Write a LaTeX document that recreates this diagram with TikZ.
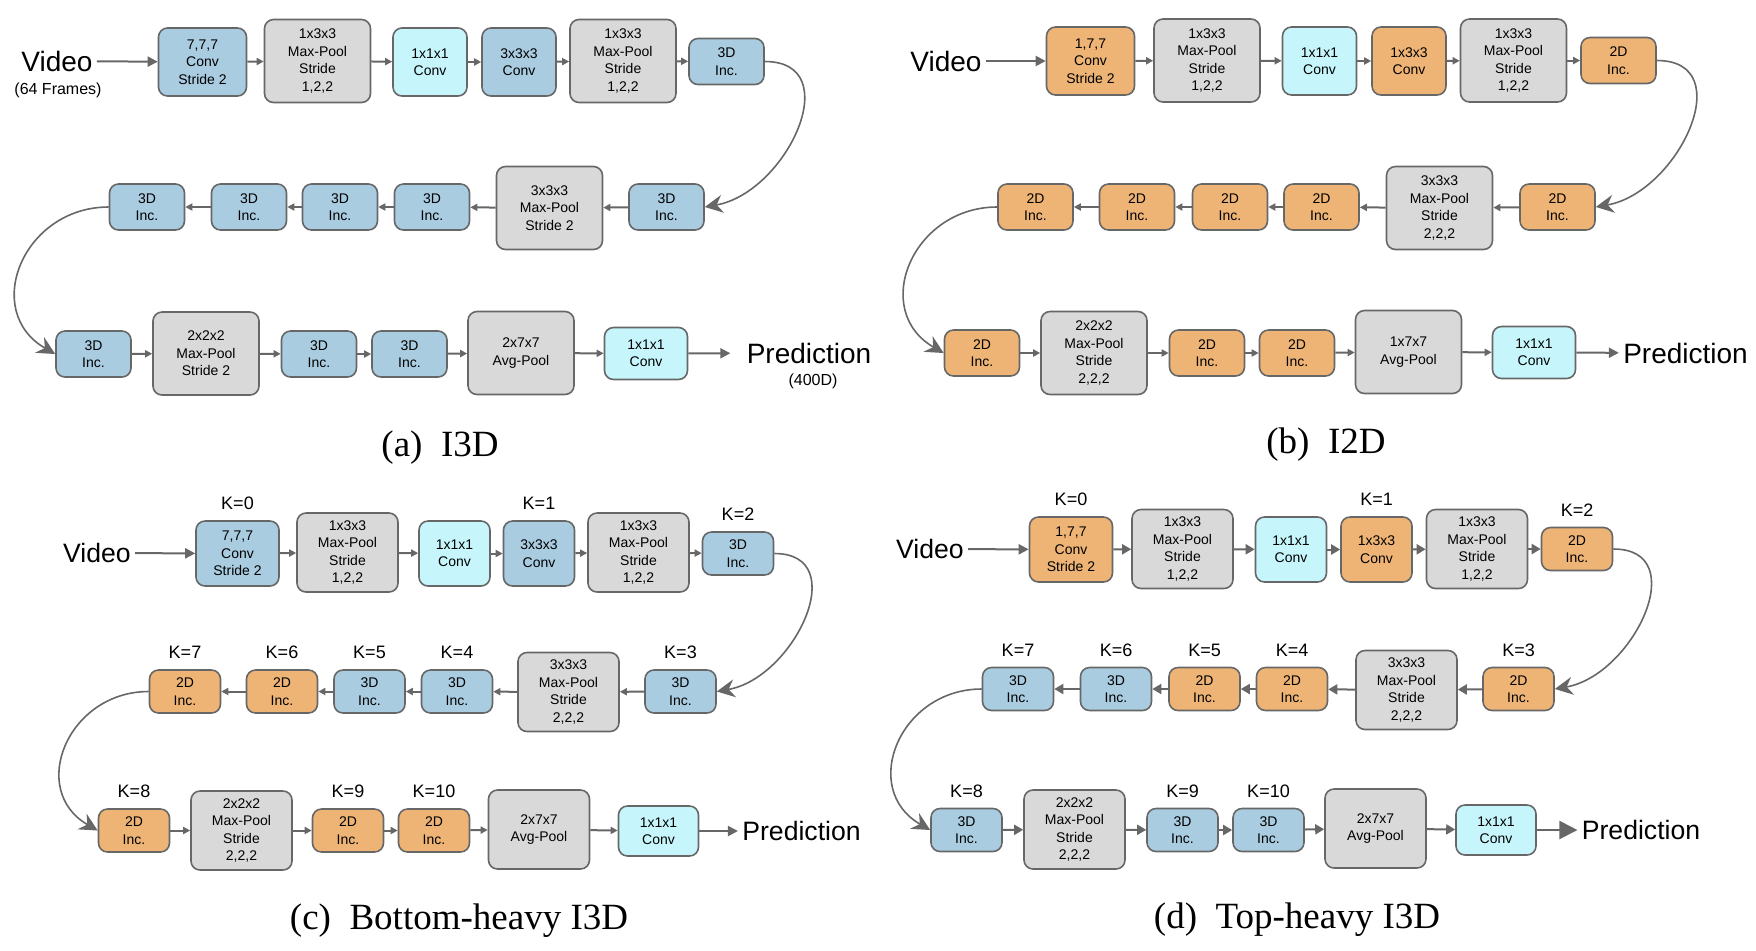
\documentclass[tikz,border=0pt]{standalone}
\usepackage{fontspec}
\setmainfont{Liberation Sans}
\newfontfamily\capfamily{Liberation Serif}
\usetikzlibrary{arrows.meta,positioning}
\definecolor{incblue}{HTML}{A9CCE1}
\definecolor{incorange}{HTML}{EEB476}
\definecolor{poolgray}{HTML}{D9D9D9}
\definecolor{convcyan}{HTML}{C6F6FB}
\definecolor{edgegray}{HTML}{676767}
\tikzset{
	block/.style={
		rectangle,
		rounded corners=4.5pt,
		draw=edgegray, line width=0.8pt,
		align=center,
		inner sep=0pt,
		font=\fontsize{7}{8.7}\selectfont},
	incblock/.style={block, minimum width=37.5pt, minimum height=23pt},
	convblock/.style={block, minimum width=37pt, minimum height=34pt},
	stemblock/.style={block, minimum width=44pt, minimum height=34pt},
	poolblock/.style={block, fill=poolgray, minimum width=53pt, minimum height=41.5pt},
	headblock/.style={block, fill=convcyan, minimum width=41.5pt, minimum height=26pt},
	iotext/.style={inner sep=2pt, font=\fontsize{14}{16}\selectfont},
	smalltext/.style={inner sep=0pt, font=\fontsize{8}{9}\selectfont},
	klabel/.style={inner sep=0pt, font=\fontsize{9}{10}\selectfont},
	subcap/.style={inner sep=0pt, font=\capfamily\fontsize{18.5}{22}\selectfont},
	flow/.style={draw=edgegray, line width=1pt, -{Triangle[length=3.5pt,width=3.5pt]}},
	bigflow/.style={draw=edgegray, line width=1pt, -{Triangle[length=4.5pt,width=5pt]}},
	feed/.style={draw=edgegray, line width=1pt, -{Triangle[length=5pt,width=5pt]}},
	bigfeed/.style={draw=edgegray, line width=1pt, -{Triangle[length=9pt,width=9pt]}},
	rowwrap/.style={draw=edgegray, line width=0.8pt, -{Stealth[length=9pt,width=9pt,inset=3pt]}},
}

\begin{document}
\begin{tikzpicture}[x=0.5pt, y=0.5pt]
	\useasboundingbox (0,0) rectangle (1756,-950);

	% (a) I3D: first row runs left to right
	\node[iotext] (avideo) at (57,-61) {Video};
	\node[smalltext] (aframes) at (58,-90) {(64 Frames)};
	\node[stemblock, fill=incblue] (a1) at (202.5,-62) {7,7,7\\Conv\\Stride 2};
	\node[poolblock] (a2) at (317.5,-61) {1x3x3\\Max-Pool\\Stride\\1,2,2};
	\node[convblock, fill=convcyan] (a3) at (430,-62) {1x1x1\\Conv};
	\node[convblock, fill=incblue] (a4) at (519,-62) {3x3x3\\Conv};
	\node[poolblock] (a5) at (623,-61) {1x3x3\\Max-Pool\\Stride\\1,2,2};
	\node[incblock, fill=incblue] (a6) at (726.5,-61.5) {3D\\Inc.};
	% second row, right to left
	\node[incblock, fill=incblue] (a7) at (666.5,-207) {3D\\Inc.};
	\node[poolblock] (a8) at (549.5,-208) {3x3x3\\Max-Pool\\Stride 2};
	\foreach \n/\x in {9/432, 10/340, 11/249, 12/147}
		\node[incblock, fill=incblue] (a\n) at (\x,-207) {3D\\Inc.};
	% third row
	\node[incblock, fill=incblue] (a13) at (93.5,-354) {3D\\Inc.};
	\node[poolblock] (a14) at (206,-353.5) {2x2x2\\Max-Pool\\Stride 2};
	\node[incblock, fill=incblue] (a15) at (319,-354) {3D\\Inc.};
	\node[incblock, fill=incblue] (a16) at (409.5,-354) {3D\\Inc.};
	\node[poolblock] (a17) at (521,-353) {2x7x7\\Avg-Pool};
	\node[headblock] (a18) at (646,-353.5) {1x1x1\\Conv};
	\node[iotext] (apred) at (809,-353) {Prediction};
	\node[smalltext] (aout) at (813,-381) {(400D)};
	\node[subcap] (acap) at (440,-448) {(a)\ \ I3D};

	\draw[feed] (avideo) -- (a1);
	\foreach \i/\j in {1/2,2/3,3/4,4/5,5/6,7/8,8/9,9/10,10/11,11/12,13/14,14/15,15/16,16/17,17/18}
		\draw[flow] (a\i) -- (a\j);
	\draw[feed, shorten >=6pt] (a18) -- (apred);
	\draw[rowwrap] (a6.east) to[out=0, in=10, looseness=1.35] (a7.east);
	\draw[rowwrap] (a12.west) to[out=180, in=150, looseness=1.4] (a13.west);

	% (b) I2D
	\node[iotext] (bvideo) at (946,-61) {Video};
	\node[stemblock, fill=incorange] (b1) at (1090.5,-61) {1,7,7\\Conv\\Stride 2};
	\node[poolblock] (b2) at (1207,-60.5) {1x3x3\\Max-Pool\\Stride\\1,2,2};
	\node[convblock, fill=convcyan] (b3) at (1319.5,-61) {1x1x1\\Conv};
	\node[convblock, fill=incorange] (b4) at (1409,-61) {1x3x3\\Conv};
	\node[poolblock] (b5) at (1513.5,-60.5) {1x3x3\\Max-Pool\\Stride\\1,2,2};
	\node[incblock, fill=incorange] (b6) at (1618.5,-60.5) {2D\\Inc.};
	\node[incblock, fill=incorange] (b7) at (1557.5,-207) {2D\\Inc.};
	\node[poolblock] (b8) at (1439.5,-208) {3x3x3\\Max-Pool\\Stride\\2,2,2};
	\foreach \n/\x in {9/1321.5, 10/1230, 11/1137, 12/1035.5}
		\node[incblock, fill=incorange] (b\n) at (\x,-207) {2D\\Inc.};
	\foreach \n/\x in {13/982, 15/1207, 16/1297}
		\node[incblock, fill=incorange] (b\n) at (\x,-353) {2D\\Inc.};
	\node[poolblock] (b14) at (1094,-353) {2x2x2\\Max-Pool\\Stride\\2,2,2};
	\node[poolblock] (b17) at (1408.5,-352) {1x7x7\\Avg-Pool};
	\node[headblock] (b18) at (1534,-352.5) {1x1x1\\Conv};
	\node[iotext] (bpred) at (1685.5,-353) {Prediction};
	\node[subcap] (bcap) at (1326,-445) {(b)\ \ I2D};

	\draw[feed] (bvideo) -- (b1);
	\foreach \i/\j in {1/2,2/3,3/4,4/5,5/6,7/8,8/9,9/10,10/11,11/12,13/14,14/15,15/16,16/17,17/18}
		\draw[flow] (b\i) -- (b\j);
	\draw[feed] (b18) -- (bpred);
	\draw[rowwrap] (b6.east) to[out=0, in=10, looseness=1.35] (b7.east);
	\draw[rowwrap] (b12.west) to[out=180, in=150, looseness=1.4] (b13.west);

	% (c) and (d) are drawn a bit smaller
	\begin{scope}[
		incblock/.append style={minimum width=35.5pt, minimum height=21.5pt},
		convblock/.append style={minimum width=35.5pt, minimum height=32.5pt},
		stemblock/.append style={minimum width=41.5pt, minimum height=32.5pt},
		poolblock/.append style={minimum width=50.5pt, minimum height=39.5pt},
		headblock/.append style={minimum width=40pt, minimum height=25pt},
		iotext/.append style={font=\fontsize{13.3}{15}\selectfont}]

	% (c) Bottom-heavy I3D
	\node[iotext] (cvideo) at (97,-553) {Video};
	\node[stemblock, fill=incblue] (c1) at (237.5,-553.5) {7,7,7\\Conv\\Stride 2};
	\node[poolblock] (c2) at (347.5,-552.5) {1x3x3\\Max-Pool\\Stride\\1,2,2};
	\node[convblock, fill=convcyan] (c3) at (454.5,-553.5) {1x1x1\\Conv};
	\node[convblock, fill=incblue] (c4) at (539,-553.5) {3x3x3\\Conv};
	\node[poolblock] (c5) at (638.5,-552.5) {1x3x3\\Max-Pool\\Stride\\1,2,2};
	\node[incblock, fill=incblue] (c6) at (738,-553.5) {3D\\Inc.};
	\node[incblock, fill=incblue] (c7) at (680.5,-691.5) {3D\\Inc.};
	\node[poolblock] (c8) at (568.5,-692) {3x3x3\\Max-Pool\\Stride\\2,2,2};
	\foreach \n/\x/\col/\kind in {9/457/incblue/3D, 10/369.5/incblue/3D, 11/282/incorange/2D, 12/185/incorange/2D}
		\node[incblock, fill=\col] (c\n) at (\x,-691.5) {\kind\\Inc.};
	\foreach \n/\x in {13/134, 15/348, 16/434}
		\node[incblock, fill=incorange] (c\n) at (\x,-830.5) {2D\\Inc.};
	\node[poolblock] (c14) at (241.5,-830.5) {2x2x2\\Max-Pool\\Stride\\2,2,2};
	\node[poolblock] (c17) at (539,-829.5) {2x7x7\\Avg-Pool};
	\node[headblock] (c18) at (658.5,-831) {1x1x1\\Conv};
	\node[iotext] (cpred) at (801.5,-831) {Prediction};
	\node[subcap] (ccap) at (459,-921) {(c)\ \ Bottom-heavy I3D};
	\foreach \n/\k in {1/0, 4/1, 6/2, 7/3, 9/4, 10/5, 11/6, 12/7, 13/8, 15/9, 16/10}
		\node[klabel, above=5pt of c\n] (ck\k) {K=\k};

	\draw[feed] (cvideo) -- (c1);
	\foreach \i/\j in {1/2,2/3,3/4,4/5,5/6,7/8,8/9,9/10,10/11,11/12,13/14,14/15,15/16,16/17,17/18}
		\draw[flow] (c\i) -- (c\j);
	\draw[feed] (c18) -- (cpred);
	\draw[rowwrap] (c6.east) to[out=0, in=10, looseness=1.35] (c7.east);
	\draw[rowwrap] (c12.west) to[out=180, in=150, looseness=1.4] (c13.west);

	% (d) Top-heavy I3D
	\node[iotext] (dvideo) at (930,-549) {Video};
	\node[stemblock, fill=incorange] (d1) at (1071,-549.5) {1,7,7\\Conv\\Stride 2};
	\node[poolblock] (d2) at (1182.5,-549) {1x3x3\\Max-Pool\\Stride\\1,2,2};
	\node[convblock, fill=convcyan] (d3) at (1291,-549.5) {1x1x1\\Conv};
	\node[convblock, fill=incorange] (d4) at (1376.5,-549.5) {1x3x3\\Conv};
	\node[poolblock] (d5) at (1477,-549) {1x3x3\\Max-Pool\\Stride\\1,2,2};
	\node[incblock, fill=incorange] (d6) at (1577,-549) {2D\\Inc.};
	\node[incblock, fill=incorange] (d7) at (1518.5,-689) {2D\\Inc.};
	\node[poolblock] (d8) at (1406.5,-690) {3x3x3\\Max-Pool\\Stride\\2,2,2};
	\foreach \n/\x/\col/\kind in {9/1292/incorange/2D, 10/1204.5/incorange/2D, 11/1116/incblue/3D, 12/1018/incblue/3D}
		\node[incblock, fill=\col] (d\n) at (\x,-689) {\kind\\Inc.};
	\foreach \n/\x in {13/966.5, 15/1182.5, 16/1268.5}
		\node[incblock, fill=incblue] (d\n) at (\x,-830) {3D\\Inc.};
	\node[poolblock] (d14) at (1074.5,-829.5) {2x2x2\\Max-Pool\\Stride\\2,2,2};
	\node[poolblock] (d17) at (1375.5,-828.5) {2x7x7\\Avg-Pool};
	\node[headblock] (d18) at (1496,-830) {1x1x1\\Conv};
	\node[iotext] (dpred) at (1641,-830) {Prediction};
	\node[subcap] (dcap) at (1297,-920) {(d)\ \ Top-heavy I3D};
	\foreach \n/\k in {1/0, 4/1, 6/2, 7/3, 9/4, 10/5, 11/6, 12/7, 13/8, 15/9, 16/10}
		\node[klabel, above=5pt of d\n] (dk\k) {K=\k};

	\draw[feed] (dvideo) -- (d1);
	\foreach \i/\j in {1/2,2/3,3/4,4/5,5/6,7/8,8/9,9/10,10/11,11/12,13/14,14/15,15/16,16/17,17/18}
		\draw[bigflow] (d\i) -- (d\j);
	\draw[bigfeed] (d18) -- (dpred);
	\draw[rowwrap] (d6.east) to[out=0, in=10, looseness=1.35] (d7.east);
	\draw[rowwrap] (d12.west) to[out=180, in=150, looseness=1.4] (d13.west);
	\end{scope}
\end{tikzpicture}
\end{document}
